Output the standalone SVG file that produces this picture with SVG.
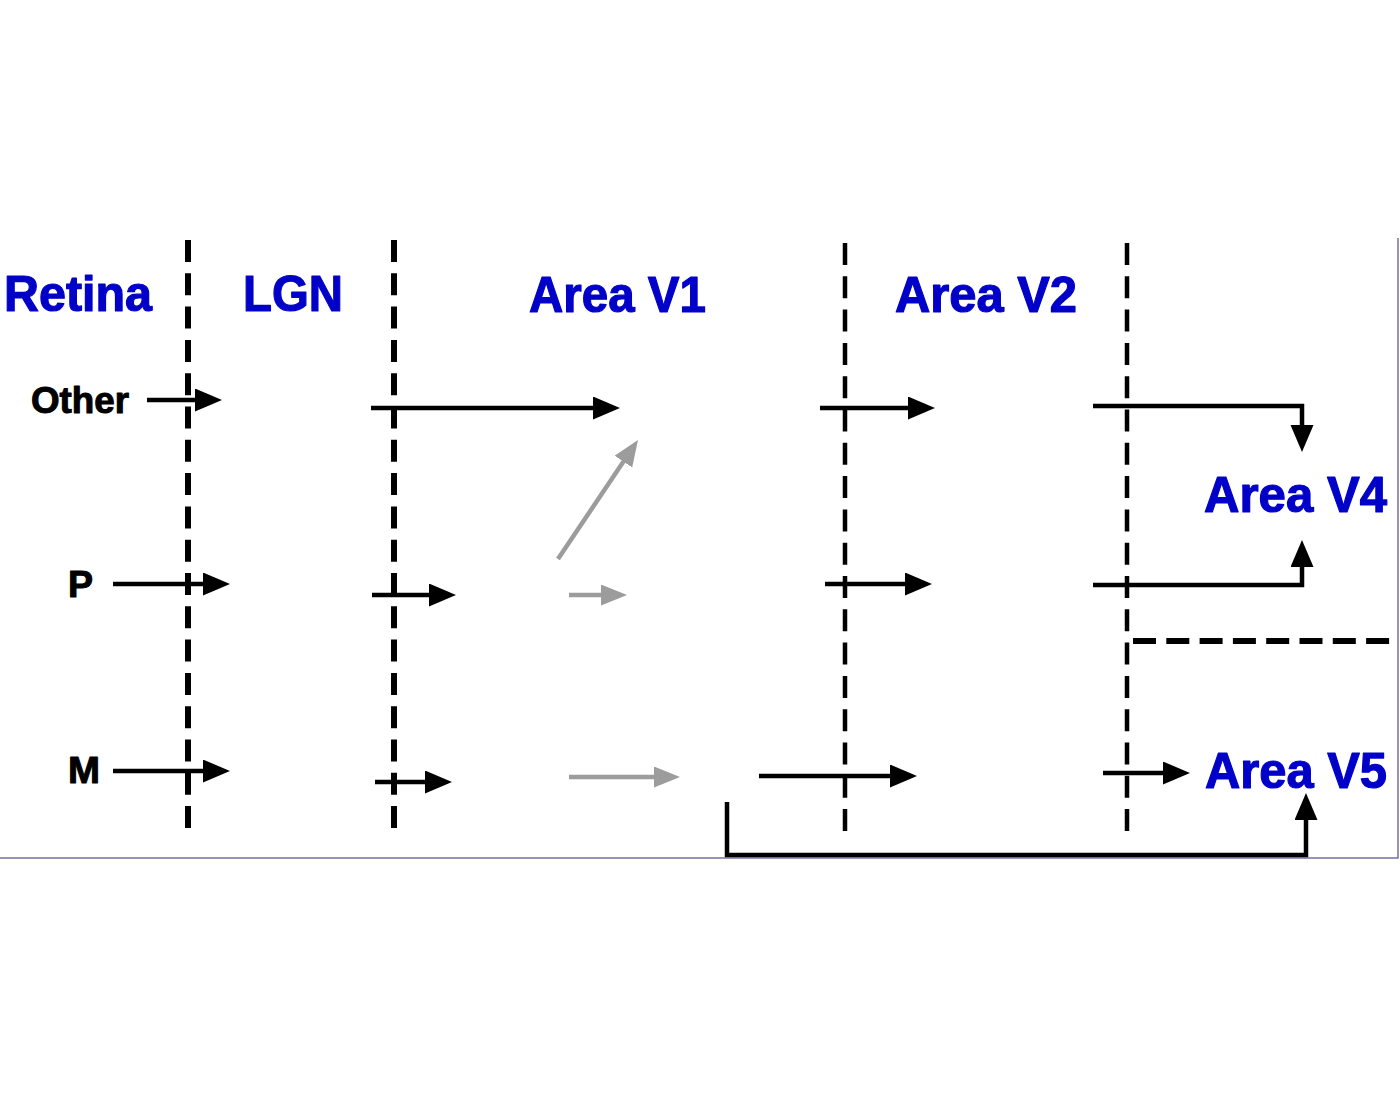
<svg xmlns="http://www.w3.org/2000/svg" width="1400" height="1100" viewBox="0 0 1400 1100">
  <style>
    .title { font-family: "Liberation Sans", Arial, sans-serif; font-weight: bold; font-size: 50px; fill: #0000c8; stroke: #0000c8; stroke-width: 1.2; stroke-linejoin: round; }
    .lab { font-family: "Liberation Sans", Arial, sans-serif; font-weight: bold; font-size: 36px; fill: #000; stroke: #000; stroke-width: 1; stroke-linejoin: round; }
    .div-thick { stroke: #000; stroke-width: 6; fill: none; stroke-dasharray: 22 11.3; }
    .div-thin { stroke: #000; stroke-width: 4.5; fill: none; stroke-dasharray: 22 11.3; }
    .conn { stroke: #000; stroke-width: 4.5; fill: none; marker-end: url(#ah); }
    .conn-gray { stroke: #9c9c9c; stroke-width: 4.5; fill: none; marker-end: url(#ahg); }
    .frame { stroke: #7b6fa6; stroke-width: 1.5; fill: none; }
  </style>
  <defs>
    <marker id="ah" markerUnits="userSpaceOnUse" markerWidth="30" markerHeight="24" refX="17" refY="11.5" orient="auto">
      <path d="M0,0 L27,11.5 L0,23 Z" fill="#000"/>
    </marker>
    <marker id="ahg" markerUnits="userSpaceOnUse" markerWidth="30" markerHeight="24" refX="16" refY="10.5" orient="auto">
      <path d="M0,0 L26,10.5 L0,21 Z" fill="#9c9c9c"/>
    </marker>
  </defs>
  <rect x="0" y="0" width="1400" height="1100" fill="#fff"/>

  <g id="frame">
    <path class="frame" d="M0,858 H1398 V238"/>
  </g>

  <g id="dividers">
    <line class="div-thick" x1="188" y1="240" x2="188" y2="832"/>
    <line class="div-thick" x1="394" y1="240" x2="394" y2="832"/>
    <line class="div-thin" x1="845" y1="243" x2="845" y2="832"/>
    <line class="div-thin" x1="1127" y1="243" x2="1127" y2="832"/>
    <line class="div-thick" x1="1133" y1="641" x2="1390" y2="641" style="stroke-dasharray:23 10.3"/>
  </g>

  <g id="retina"><text class="title" x="4" y="311" textLength="148" lengthAdjust="spacingAndGlyphs">Retina</text></g>
  <g id="lgn"><text class="title" x="243" y="311" textLength="100" lengthAdjust="spacingAndGlyphs">LGN</text></g>
  <g id="v1"><text class="title" x="529" y="312" textLength="177" lengthAdjust="spacingAndGlyphs">Area V1</text></g>
  <g id="v2"><text class="title" x="895" y="312" textLength="182" lengthAdjust="spacingAndGlyphs">Area V2</text></g>
  <g id="v4"><text class="title" x="1204" y="512" textLength="183" lengthAdjust="spacingAndGlyphs">Area V4</text></g>
  <g id="v5"><text class="title" x="1205" y="788" textLength="182" lengthAdjust="spacingAndGlyphs">Area V5</text></g>
  <g id="other"><text class="lab" x="31" y="413" textLength="98" lengthAdjust="spacingAndGlyphs">Other</text></g>
  <g id="p"><text class="lab" x="68" y="597" textLength="25" lengthAdjust="spacingAndGlyphs">P</text></g>
  <g id="m"><text class="lab" x="68" y="783" textLength="32" lengthAdjust="spacingAndGlyphs">M</text></g>

  <g id="connectors">
    <path class="conn" d="M147,400 H212"/>
    <path class="conn" d="M371,408 H610"/>
    <path class="conn" d="M820,408 H925"/>
    <path class="conn" d="M1093,406 H1302 V442"/>
    <path class="conn" d="M113,584 H220"/>
    <path class="conn" d="M372,595 H446"/>
    <path class="conn" d="M825,584 H922"/>
    <path class="conn" d="M1093,585 H1302 V550"/>
    <path class="conn" d="M113,771 H220"/>
    <path class="conn" d="M375,782 H442"/>
    <path class="conn" d="M759,776 H907"/>
    <path class="conn" d="M1103,773 H1180"/>
    <path class="conn" d="M727,802 V855 H1306 V803"/>
    <path class="conn-gray" d="M558,559 L632.4,448.3"/>
    <path class="conn-gray" d="M569,595 H617"/>
    <path class="conn-gray" d="M569,777 H670"/>
  </g>
</svg>
